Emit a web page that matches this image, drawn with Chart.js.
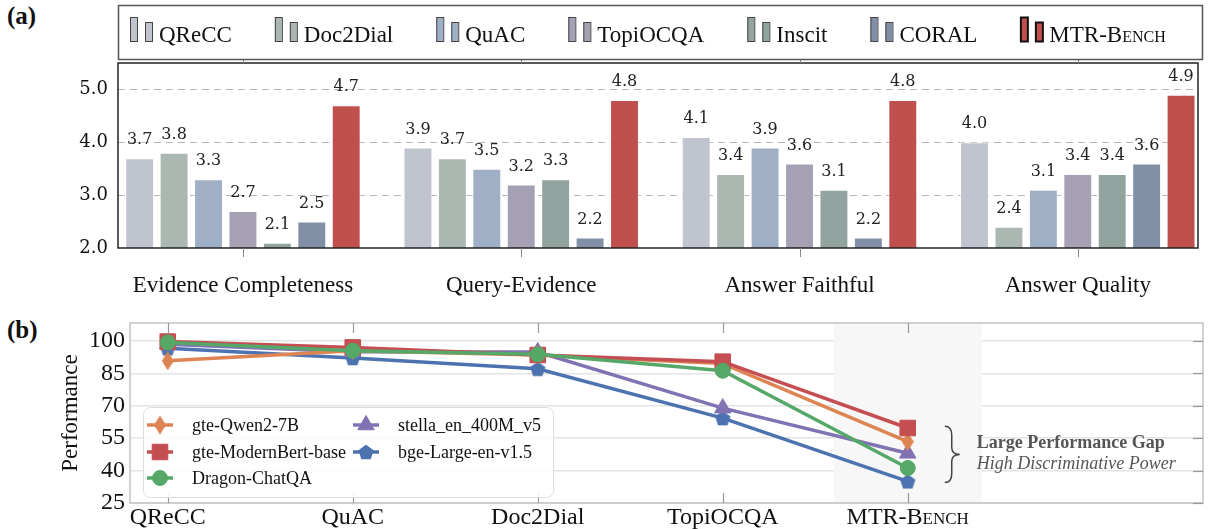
<!DOCTYPE html>
<html>
<head>
<meta charset="utf-8">
<script src="https://cdn.jsdelivr.net/npm/chart.js@4.4.1/dist/chart.umd.min.js"></script>
<style>
body { margin: 0; background: #fff; width: 1208px; height: 529px; overflow: hidden; position: relative; }
.tag { position: absolute; left: 7px; font: bold 25px "Liberation Serif", serif; color: #111; }
#chartA { position: absolute; left: 0; top: 0; }
#chartB { position: absolute; left: 0; top: 310px; }
</style>
</head>
<body>
<div class="tag" style="top:2px">(a)</div>
<div class="tag" style="top:316px">(b)</div>
<canvas id="chartA" width="1208" height="310"></canvas>
<canvas id="chartB" width="1208" height="219"></canvas>
<script>
// panel (a): judge scores per benchmark
var metrics = ['Evidence Completeness', 'Query-Evidence', 'Answer Faithful', 'Answer Quality'];
var benchNames = ['QReCC', 'Doc2Dial', 'QuAC', 'TopiOCQA', 'Inscit', 'CORAL', 'MTR-Bench'];
var qreccScores = [3.7, 3.9, 4.1, 4.0];
var doc2dialScores = [3.8, 3.7, 3.4, 2.4];
var quacScores = [3.3, 3.5, 3.9, 3.1];
var topiocqaScores = [2.7, 3.2, 3.6, 3.4];
var inscitScores = [2.1, 3.3, 3.1, 3.4];
var coralScores = [2.5, 2.2, 2.2, 3.6];
var mtrScores = [4.7, 4.8, 4.8, 4.9];
var scoreTicks = [2.0, 3.0, 4.0, 5.0];

// panel (b): retriever performance per benchmark
var benchmarks = ['QReCC', 'QuAC', 'Doc2Dial', 'TopiOCQA', 'MTR-Bench'];
var retrievers = ['gte-Qwen2-7B', 'gte-ModernBert-base', 'Dragon-ChatQA', 'stella_en_400M_v5', 'bge-Large-en-v1.5'];
var qwenPerf = [90.8, 95.5, 93.5, 89.5, 53.4];
var modernBertPerf = [99.7, 97.0, 93.5, 90.4, 59.7];
var dragonPerf = [99.3, 95.5, 93.8, 86.2, 41.2];
var stellaPerf = [98.5, 95.0, 94.9, 68.9, 48.0];
var bgePerf = [96.6, 92.1, 87.1, 64.3, 35.0];
var perfTicks = [25, 40, 55, 70, 85, 100];

var barColors = ['#c0c4cf', '#aab8b1', '#9fafc5', '#a6a0b5', '#91a4a0', '#8190a6', '#c0504e'];
var lineColors = ['#dd8452', '#c44e52', '#55a868', '#8172b3', '#4c72b0'];
var serif = '"Liberation Serif", serif';

function toPoints(arr) {
    return arr.map(function(v, i) { return {x: i, y: v}; });
}

// ---------- panel (a) ----------
var scoreSeries = [qreccScores, doc2dialScores, quacScores, topiocqaScores, inscitScores, coralScores, mtrScores];

var frameA = {
    id: 'frameA',
    afterDatasetsDraw: function(chart) {
        var ctx = chart.ctx, a = chart.chartArea;
        ctx.save();
        // value labels
        ctx.font = '16px "DejaVu Serif"';
        ctx.fillStyle = '#222';
        ctx.textAlign = 'center';
        ctx.textBaseline = 'bottom';
        chart.data.datasets.forEach(function(ds, i) {
            chart.getDatasetMeta(i).data.forEach(function(bar, j) {
                ctx.fillText(ds.data[j].y.toFixed(1), bar.x, bar.y - 10);
            });
        });
        // frame
        ctx.strokeStyle = '#222';
        ctx.lineWidth = 1.5;
        ctx.strokeRect(a.left, a.top, a.right - a.left, a.bottom - a.top);
        ctx.strokeStyle = '#888';
        ctx.lineWidth = 1;
        var xs = chart.scales.x;
        metrics.forEach(function(m, i) {
            var px = Math.round(xs.getPixelForValue(i)) + 0.5;
            ctx.beginPath();
            ctx.moveTo(px, a.bottom); ctx.lineTo(px, a.bottom + 9);
            ctx.moveTo(px, a.top); ctx.lineTo(px, a.top - 4);
            ctx.stroke();
        });
        ctx.restore();
    },
    afterDraw: function(chart) {
        var ctx = chart.ctx;
        ctx.save();
        ctx.strokeStyle = '#555';
        ctx.lineWidth = 1.5;
        ctx.strokeRect(118.5, 5.5, 1084, 54);
        var x = 130;
        ctx.textBaseline = 'alphabetic';
        var n = chart.data.datasets.length;
        chart.data.datasets.forEach(function(ds, i) {
            var last = i === n - 1;
            ctx.fillStyle = ds.backgroundColor;
            ctx.strokeStyle = last ? '#111' : '#444';
            ctx.lineWidth = last ? 2 : 1;
            ctx.fillRect(x, 17, 7, 25); ctx.strokeRect(x + 0.5, 17.5, 7, 24);
            ctx.fillRect(x + 15, 22, 7, 20); ctx.strokeRect(x + 15.5, 22.5, 7, 19);
            ctx.fillStyle = '#111';
            ctx.font = (last ? 'small-caps ' : '') + '23px ' + serif;
            ctx.fillText(ds.label, x + 29, 42);
            x += 29 + ctx.measureText(ds.label).width + 43;
        });
        ctx.restore();
    }
};

new Chart(document.getElementById('chartA'), {
    type: 'bar',
    data: {
        datasets: scoreSeries.map(function(s, i) {
            return {
                label: benchNames[i],
                data: toPoints(s),
                backgroundColor: barColors[i],
                borderColor: 'rgba(255,255,255,0.55)',
                borderWidth: 1,
                categoryPercentage: 0.866,
                barPercentage: 0.84
            };
        })
    },
    options: {
        responsive: false,
        animation: false,
        layout: {autoPadding: false, padding: {left: 0, right: 10, top: 63, bottom: 0}},
        plugins: {legend: {display: false}, tooltip: {enabled: false}},
        scales: {
            x: {
                type: 'linear',
                offset: false,
                min: -0.449,
                max: 3.432,
                afterBuildTicks: function(s) { s.ticks = metrics.map(function(m, i) { return {value: i}; }); },
                afterFit: function(s) { s.height = 62; s.paddingLeft = 0; s.paddingRight = 0; },
                grid: {display: false, drawTicks: false, offset: false},
                border: {display: false},
                ticks: {
                    maxRotation: 0,
                    autoSkip: false,
                    padding: 24,
                    color: '#111',
                    font: {family: serif, size: 23},
                    callback: function(v) { return metrics[v]; }
                }
            },
            y: {
                min: 2.0,
                max: 5.5,
                afterBuildTicks: function(s) { s.ticks = scoreTicks.map(function(v) { return {value: v}; }); },
                afterFit: function(s) { s.width = 118; s.paddingTop = 0; s.paddingBottom = 0; },
                grid: {
                    drawTicks: false,
                    color: function(c) { return c.tick && c.tick.value === 2 ? 'rgba(0,0,0,0)' : '#b8b8b8'; },
                    lineWidth: 1
                },
                border: {display: false, dash: [7, 5]},
                ticks: {
                    padding: 10,
                    color: '#111',
                    font: {family: '"DejaVu Serif"', size: 18},
                    callback: function(v) { return v.toFixed(1); }
                }
            }
        }
    },
    plugins: [frameA]
});

// ---------- panel (b) ----------
function markerCanvas(kind, color) {
    var c = document.createElement('canvas');
    var g;
    if (kind === 'diamond') {
        c.width = 12; c.height = 19;
        g = c.getContext('2d');
        g.fillStyle = color;
        g.beginPath();
        g.moveTo(6, 0); g.lineTo(12, 9.5); g.lineTo(6, 19); g.lineTo(0, 9.5);
        g.closePath(); g.fill();
    } else {
        c.width = 16; c.height = 16;
        g = c.getContext('2d');
        g.fillStyle = color;
        g.beginPath();
        for (var k = 0; k < 5; k++) {
            var ang = -Math.PI / 2 + k * 2 * Math.PI / 5;
            var px = 8 + 8 * Math.cos(ang), py = 8.8 + 8 * Math.sin(ang);
            if (k === 0) g.moveTo(px, py); else g.lineTo(px, py);
        }
        g.closePath(); g.fill();
    }
    return c;
}

var perfSeries = [qwenPerf, modernBertPerf, dragonPerf, stellaPerf, bgePerf];
var markerStyles = [markerCanvas('diamond', lineColors[0]), 'rect', 'circle', 'triangle', markerCanvas('pentagon', lineColors[4])];
var markerRadius = [6, 11, 7.5, 9.5, 8];
var drawOrder = [3, 2, 1, 4, 5];

function drawMarker(ctx, style, r, x, y, color) {
    ctx.fillStyle = color;
    ctx.strokeStyle = color;
    ctx.lineWidth = 1;
    if (typeof style === 'object') {
        ctx.drawImage(style, x - style.width / 2, y - style.height / 2);
        return;
    }
    if (Chart.helpers && Chart.helpers.drawPoint) {
        Chart.helpers.drawPoint(ctx, {pointStyle: style, radius: r, borderWidth: 1, rotation: 0}, x, y);
    }
}

var decorB = {
    id: 'decorB',
    beforeDatasetsDraw: function(chart) {
        var ctx = chart.ctx, a = chart.chartArea, xs = chart.scales.x;
        var x0 = xs.getPixelForValue(3.6), x1 = xs.getPixelForValue(4.4);
        ctx.save();
        ctx.fillStyle = '#f7f7f7';
        ctx.fillRect(x0, a.top - 1, x1 - x0, a.bottom - a.top);
        ctx.restore();
    },
    afterDraw: function(chart) {
        var ctx = chart.ctx, a = chart.chartArea, xs = chart.scales.x, ys = chart.scales.y;
        ctx.save();
        // frame
        ctx.strokeStyle = '#c4c4c4';
        ctx.lineWidth = 1.5;
        ctx.strokeRect(a.left, a.top, a.right - a.left, a.bottom - a.top);
        // inward ticks
        ctx.strokeStyle = '#9a9a9a';
        ctx.lineWidth = 1.2;
        benchmarks.forEach(function(b, i) {
            var px = Math.round(xs.getPixelForValue(i)) + 0.5;
            ctx.beginPath();
            ctx.moveTo(px, a.top); ctx.lineTo(px, a.top + 10);
            ctx.moveTo(px, a.bottom); ctx.lineTo(px, a.bottom - 10);
            ctx.stroke();
        });
        perfTicks.forEach(function(v) {
            var py = Math.round(ys.getPixelForValue(v)) + 0.5;
            ctx.beginPath();
            ctx.moveTo(a.right, py); ctx.lineTo(a.right - 10, py);
            ctx.stroke();
        });

        // legend box
        var bx = 143.5, by = 97.5, bw = 410, bh = 90, rr = 7;
        ctx.beginPath();
        ctx.moveTo(bx + rr, by);
        ctx.arcTo(bx + bw, by, bx + bw, by + bh, rr);
        ctx.arcTo(bx + bw, by + bh, bx, by + bh, rr);
        ctx.arcTo(bx, by + bh, bx, by, rr);
        ctx.arcTo(bx, by, bx + bw, by, rr);
        ctx.closePath();
        ctx.fillStyle = 'rgba(255,255,255,0.85)';
        ctx.fill();
        ctx.strokeStyle = '#dcdcdc';
        ctx.lineWidth = 1;
        ctx.stroke();

        var slots = [[160, 115], [160, 142], [160, 168], [366, 115], [366, 142]];
        ctx.font = '18px ' + serif;
        ctx.textBaseline = 'middle';
        chart.data.datasets.forEach(function(ds, i) {
            var sx = slots[i][0], sy = slots[i][1];
            ctx.strokeStyle = ds.borderColor;
            ctx.lineWidth = 3.5;
            ctx.beginPath();
            ctx.moveTo(sx - 13, sy); ctx.lineTo(sx + 13, sy);
            ctx.stroke();
            drawMarker(ctx, ds.pointStyle, ds.pointRadius, sx, sy, ds.borderColor);
            ctx.fillStyle = '#111';
            ctx.fillText(ds.label, sx + 32, sy + 1);
        });

        // brace + annotation next to MTR-Bench
        var mx = xs.getPixelForValue(4);
        var top = ys.getPixelForValue(60.5), bot = ys.getPixelForValue(34.5);
        var mid = (top + bot) / 2;
        var bx0 = mx + 37, bxm = mx + 44, bxp = mx + 52;
        ctx.strokeStyle = '#444';
        ctx.lineWidth = 1.5;
        ctx.beginPath();
        ctx.moveTo(bx0, top);
        ctx.quadraticCurveTo(bxm, top, bxm, top + 9);
        ctx.lineTo(bxm, mid - 7);
        ctx.quadraticCurveTo(bxm, mid, bxp, mid);
        ctx.quadraticCurveTo(bxm, mid, bxm, mid + 7);
        ctx.lineTo(bxm, bot - 9);
        ctx.quadraticCurveTo(bxm, bot, bx0, bot);
        ctx.stroke();

        ctx.fillStyle = '#555';
        ctx.textAlign = 'left';
        ctx.font = 'bold 18px ' + serif;
        ctx.fillText('Large Performance Gap', mx + 69, mid - 11);
        ctx.font = 'italic 18px ' + serif;
        ctx.fillText('High Discriminative Power', mx + 69, mid + 10);
        ctx.restore();
    }
};

new Chart(document.getElementById('chartB'), {
    type: 'line',
    data: {
        datasets: perfSeries.map(function(s, i) {
            return {
                label: retrievers[i],
                data: toPoints(s),
                borderColor: lineColors[i],
                backgroundColor: lineColors[i],
                borderWidth: 3.5,
                pointStyle: markerStyles[i],
                pointRadius: markerRadius[i],
                pointBorderWidth: 1,
                pointBackgroundColor: lineColors[i],
                pointBorderColor: lineColors[i],
                order: drawOrder[i],
                tension: 0,
                clip: false
            };
        })
    },
    options: {
        responsive: false,
        animation: false,
        layout: {autoPadding: false, padding: {left: 0, right: 5, top: 13, bottom: 0}},
        plugins: {legend: {display: false}, tooltip: {enabled: false}},
        scales: {
            x: {
                type: 'linear',
                offset: false,
                min: -0.204,
                max: 5.596,
                afterBuildTicks: function(s) { s.ticks = benchmarks.map(function(b, i) { return {value: i}; }); },
                afterFit: function(s) { s.height = 26; s.paddingLeft = 0; s.paddingRight = 0; },
                grid: {display: false, drawTicks: false},
                border: {display: false},
                ticks: {
                    maxRotation: 0,
                    autoSkip: false,
                    padding: 0,
                    color: '#111',
                    font: function(c) {
                        return c.index === 4 ? {family: serif, size: 24, weight: 'small-caps'} : {family: serif, size: 24};
                    },
                    callback: function(v) { return benchmarks[v]; }
                }
            },
            y: {
                min: 25,
                max: 108.3,
                afterBuildTicks: function(s) { s.ticks = perfTicks.map(function(v) { return {value: v}; }); },
                afterFit: function(s) { s.width = 130; s.paddingTop = 0; s.paddingBottom = 0; },
                grid: {drawTicks: false, color: '#e4e4e4', lineWidth: 1.5},
                border: {display: false},
                title: {
                    display: true,
                    text: 'Performance',
                    color: '#111',
                    font: {family: serif, size: 23},
                    padding: {top: 57, bottom: 0}
                },
                ticks: {
                    padding: 5,
                    color: '#111',
                    font: {family: serif, size: 24}
                }
            }
        }
    },
    plugins: [decorB]
});
</script>
</body>
</html>
